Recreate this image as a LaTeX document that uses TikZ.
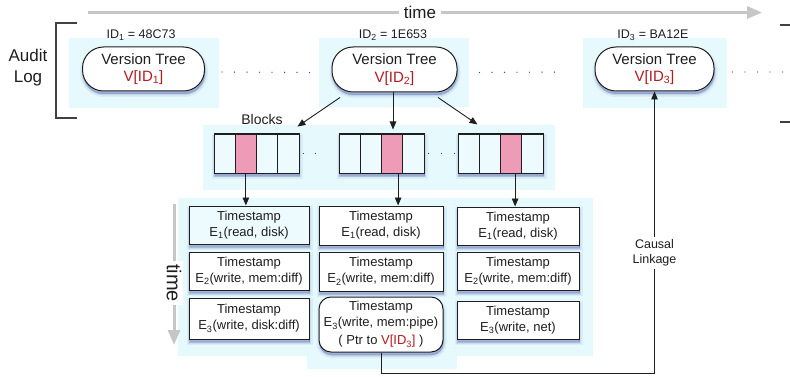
\documentclass[tikz,border=0pt]{standalone}
\usepackage{fontspec}
\setmainfont{Liberation Sans}
\usetikzlibrary{arrows.meta,calc}
\definecolor{bgcyan}{HTML}{E6FAFE}
\definecolor{cellfill}{HTML}{EDFBFE}
\definecolor{pinkc}{HTML}{EE9BB8}
\definecolor{vred}{HTML}{B3191E}
\definecolor{tgray}{HTML}{C6C6C6}
\definecolor{shadowc}{HTML}{4A5AA8}
\definecolor{ink}{HTML}{1E1E1E}
\tikzset{
  bgbox/.style={fill=bgcyan,draw=none},
  myshadow/.style={
    preaction={draw=shadowc,fill=shadowc,line width=6pt,opacity=0.08,transform canvas={shift={(0.5pt,-3pt)}}},
    preaction={draw=shadowc,fill=shadowc,line width=3pt,opacity=0.12,transform canvas={shift={(0.5pt,-3pt)}}},
    preaction={draw=shadowc,fill=shadowc,line width=0.5pt,opacity=0.22,transform canvas={shift={(0.5pt,-3pt)}}}},
  vtree/.style={draw=ink,line width=1pt,rounded corners=21pt,fill=white,minimum width=122,minimum height=44,align=center,myshadow,font=\fontsize{15}{17.5}\selectfont,text=ink,inner sep=0pt},
  idlabel/.style={font=\fontsize{12.5}{15}\selectfont,text=ink,inner sep=0pt},
  arrbox/.style={draw=ink,line width=1pt,minimum width=85,minimum height=39,fill=cellfill,myshadow,inner sep=0pt},
  cell/.style={draw=ink,line width=0.9pt,minimum width=21.25,minimum height=39,fill=cellfill,inner sep=0pt},
  evbox/.style={draw=ink,line width=1pt,fill=white,minimum height=38,align=center,myshadow,font=\fontsize{13}{16}\selectfont,text=ink,inner sep=0pt},
  arr/.style={draw=ink,line width=0.9pt,-{Triangle[length=8pt,width=6.5pt]}},
  grayarr/.style={draw=tgray,line width=3pt,-{Triangle[length=15pt,width=12pt]}},
  dotline/.style={draw=ink!80,line width=1.4pt,line cap=round,dash pattern=on 0pt off 12.5pt},
  lbl/.style={text=ink,inner sep=0pt,align=center}
}
\begin{document}
\begin{tikzpicture}[x=1pt,y=-1pt]
\useasboundingbox (0,0) rectangle (790,377);
% time arrow (top)
\draw[grayarr] (88,12.5) -- (762,12.5);
\node[lbl,fill=white,inner xsep=5pt,inner ysep=2pt,font=\fontsize{17}{20}\selectfont] (ttop) at (420,12.5) {time};
% audit log bracket
\draw[ink!85,line width=1.2pt] (77,23) -- (56,23) -- (56,118) -- (77,118);
\draw[ink!85,line width=1.2pt] (780,25) -- (790,25);
\draw[ink!85,line width=1.2pt] (780,122) -- (790,122);
\node[lbl,font=\fontsize{17}{21}\selectfont] (audit) at (28,68) {Audit\\Log};
% backgrounds
\fill[bgbox] (69,38) rectangle (219,108);
\fill[bgbox] (319,38) rectangle (469,107);
\fill[bgbox] (583,38) rectangle (727,108);
\fill[bgbox] (203,125) rectangle (555,190);
\fill[bgbox] (178,198) rectangle (593,356);
\fill[bgbox] (307,356) rectangle (457,369);
% version trees
\node[vtree] (vt1) at (143.5,69) {Version Tree\\{\color{vred}V[ID\textsubscript{1}]}};
\node[vtree,minimum width=125,minimum height=45] (vt2) at (394.5,69.5) {Version Tree\\{\color{vred}V[ID\textsubscript{2}]}};
\node[vtree,minimum width=119] (vt3) at (654.5,69) {Version Tree\\{\color{vred}V[ID\textsubscript{3}]}};
\node[idlabel] (id1) at (141,35) {ID\textsubscript{1} = 48C73};
\node[idlabel] (id2) at (393,35) {ID\textsubscript{2} = 1E653};
\node[idlabel] (id3) at (653,35) {ID\textsubscript{3} = BA12E};
% dotted connections
\draw[dotline] ($(vt1.east)+(17,3)$) -- ($(vt2.west)+(-22,3)$);
\draw[dotline] ($(vt2.east)+(22,3)$) -- ($(vt3.west)+(-28,3)$);
\coordinate (dend) at (790,72);
\draw[dotline] ($(vt3.east)+(18,3)$) -- (dend);
% blocks
\node[lbl,font=\fontsize{14}{17}\selectfont] (blocks) at (262,119) {Blocks};
\foreach \k/\xo in {1/214,2/339,3/458}{
  \node[arrbox] (arr\k) at (\xo+42.5,153.5) {};
  \foreach \i in {1,...,4}{
    \node[cell] (a\k c\i) at (\xo+21.25*\i-10.625,153.5) {};
  }
}
\node[cell,fill=pinkc] (pk1) at (a1c2) {};
\node[cell,fill=pinkc] (pk2) at (a2c3) {};
\node[cell,fill=pinkc] (pk3) at (a3c3) {};
\draw[dotline,dash pattern=on 0pt off 12pt] ($(arr1.east)+(4,0)$) -- ($(arr2.west)+(-11,0)$);
\draw[dotline,dash pattern=on 0pt off 13pt] ($(arr2.east)+(4,0)$) -- ($(arr3.west)+(-2,0)$);
% arrows from version tree 2
\coordinate (s1) at ($(vt2.south)+(-54.5,5)$);
\coordinate (t1) at ($(a1c4.north east)+(-2,-7)$);
\coordinate (s2) at ($(vt2.south)+(-1.5,0)$);
\coordinate (t2) at ($(arr2.north)+(-8,-4)$);
\coordinate (s3) at ($(vt2.south)+(43.5,5)$);
\coordinate (t3) at ($(arr3.north west)+(20,-9)$);
\draw[arr] (s1) -- (t1);
\draw[arr] (s2) -- (s2 |- t2);
\draw[arr] (s3) -- (t3);
% event boxes
\node[evbox,minimum width=120,fill=cellfill] (e11) at (249,225) {Timestamp\\E\textsubscript{1}(read, disk)};
\node[evbox,minimum width=120] (e12) at (249,271) {Timestamp\\E\textsubscript{2}(write, mem:diff)};
\node[evbox,minimum width=120,minimum height=41] (e13) at (249,318.5) {Timestamp\\E\textsubscript{3}(write, disk:diff)};
\node[evbox,minimum width=124,minimum height=39] (e21) at (381,225.5) {Timestamp\\E\textsubscript{1}(read, disk)};
\node[evbox,minimum width=124,minimum height=39] (e22) at (381,271.5) {Timestamp\\E\textsubscript{2}(write, mem:diff)};
\node[evbox,minimum width=124,minimum height=55,rounded corners=12pt] (e23) at (381,324.5) {Timestamp\\E\textsubscript{3}(write, mem:pipe)\\[2pt]( Ptr to {\color{vred}V[ID\textsubscript{3}]} )};
\node[evbox,minimum width=122] (e31) at (518,226) {Timestamp\\E\textsubscript{1}(read, disk)};
\node[evbox,minimum width=122] (e32) at (518,271) {Timestamp\\E\textsubscript{2}(write, mem:diff)};
\node[evbox,minimum width=122] (e33) at (518,320) {Timestamp\\E\textsubscript{3}(write, net)};
% arrows from blocks to events
\coordinate (b1) at (pk1.south);
\coordinate (b2) at ($(pk2.south)+(6,0)$);
\coordinate (b3) at ($(pk3.south)+(4,0)$);
\draw[arr] (b1) -- (b1 |- e11.north);
\draw[arr] (b2) -- (b2 |- e21.north);
\draw[arr] (b3) -- (b3 |- e31.north);
% vertical time arrow
\draw[grayarr] (174,204) -- (174,345);
\node[lbl,fill=white,rotate=-90,inner xsep=3pt,inner ysep=2pt,font=\fontsize{20}{22}\selectfont] (tleft) at (174,283) {time};
% causal linkage
\draw[arr] (e23.south) -- ++(0,21) -| (vt3.south);
\coordinate (clk) at (0,253);
\node[lbl,fill=white,inner ysep=3pt,font=\fontsize{12.5}{15}\selectfont] (causal) at (vt3.south |- clk) {Causal\\Linkage};
\end{tikzpicture}
\end{document}
